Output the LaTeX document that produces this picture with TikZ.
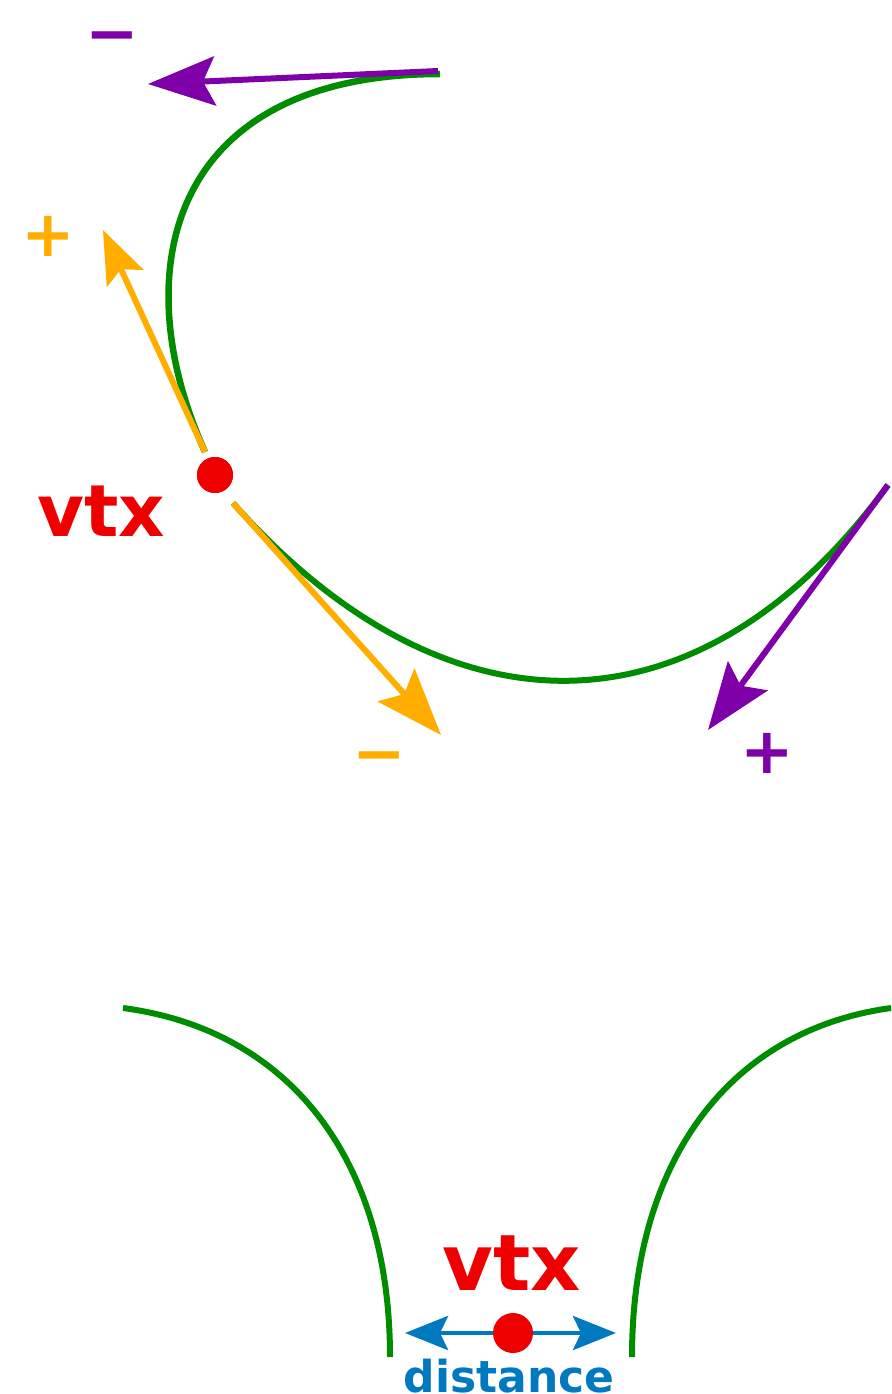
\documentclass[tikz,border=0pt]{standalone}
\usepackage{fontspec}
\setmainfont{DejaVu Sans}
\usetikzlibrary{arrows.meta}
\definecolor{vtxred}{HTML}{EE0000}
\definecolor{curvegreen}{HTML}{008C00}
\definecolor{dirpurple}{HTML}{7F00A8}
\definecolor{dirorange}{HTML}{FFAE00}
\definecolor{distblue}{HTML}{0079C1}
\tikzset{
    every node/.style={font=\bfseries},
    curve/.style={draw=curvegreen,line width=6.5pt},
    vertex/.style={circle,fill=vtxred,inner sep=0pt},
    vtxlabel/.style={text=vtxred,inner sep=0pt},
    sign/.style={inner sep=0pt,font=\bfseries\fontsize{64}{70}\selectfont},
    bigtip/.style={line width=6pt,-{Stealth[length=67pt,width=49pt,inset=12pt]}},
    smalltip/.style={line width=6pt,-{Stealth[length=53pt,width=40pt,inset=10pt]}},
    disttip/.style={line width=4.5pt,{Stealth[length=43pt,width=34pt,inset=8pt]}-{Stealth[length=43pt,width=34pt,inset=8pt]}}
}
\begin{document}
\begin{tikzpicture}[x=1pt,y=-1pt]
\useasboundingbox (0,0) rectangle (891,1394);

% upper picture: curve through the vertex
\node[vertex,minimum size=36pt] (v) at (215,475) {};
\coordinate (ctop) at (440,74);
\coordinate (cin) at (205,452);
\coordinate (cout) at (233,503);
\coordinate (cright) at (888,485);
\draw[curve] (ctop) .. controls (170,74) and (123,270) .. (cin);
\draw[curve,line width=6pt] (cout) .. controls (445,742) and (699,744) .. (cright);

% direction arrows
\coordinate (pa) at (438,71);
\coordinate (pb) at (148,84);
\coordinate (pc) at (708,730);
\coordinate (oa) at (103,230);
\coordinate (ob) at (441,735);
\draw[bigtip,dirpurple] (pa) -- (pb);
\draw[bigtip,dirpurple] (cright) -- (pc);
\draw[smalltip,dirorange] (cin) -- (oa);
\draw[bigtip,dirorange] (cout) -- (ob);
\node[vertex,minimum size=36pt] at (v) {};

\node[sign,text=dirpurple] (pminus) at (112,44) {−};
\node[sign,text=dirpurple] (pplus) at (767,753) {+};
\node[sign,text=dirorange] (oplus) at (48,236) {+};
\node[sign,text=dirorange] (ominus) at (379,764) {−};
\node[vtxlabel,font=\bfseries\fontsize{72}{80}\selectfont] (vlab) at (101,511) {vtx};

% lower picture: two branches with the vertex between them
\draw[curve,line width=6pt] (123,1008) .. controls (290,1030) and (390,1160) .. (390,1357);
\draw[curve,line width=6pt] (891,1008) .. controls (730,1030) and (632,1160) .. (632,1357);
\coordinate (dl) at (405,1333);
\coordinate (dr) at (616,1333);
\draw[disttip,distblue] (dl) -- (dr);
\node[vertex,minimum size=40pt] (w) at (513,1333) {};
\node[vtxlabel,font=\bfseries\fontsize{78}{86}\selectfont] (wlab) at (512,1263) {vtx};
\node[inner sep=0pt,anchor=base,text=distblue,font=\bfseries\fontsize{44}{50}\selectfont] (dlab) at (509,1392) {distance};
\end{tikzpicture}
\end{document}
